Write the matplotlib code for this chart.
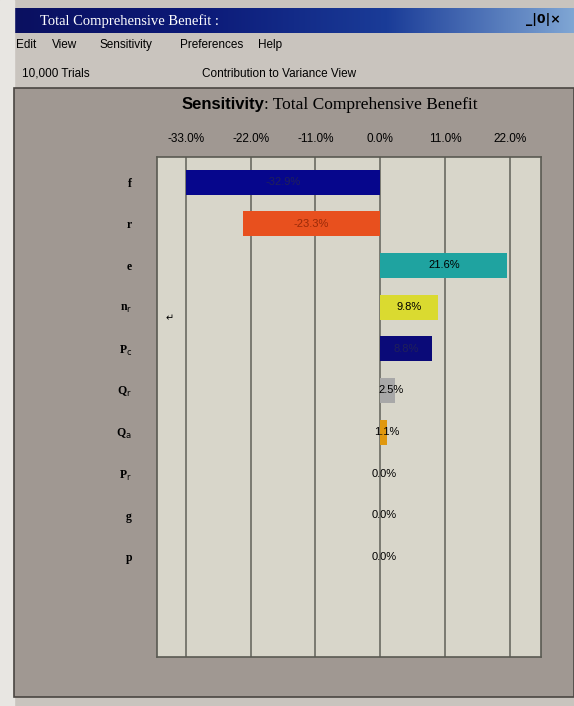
import numpy as np
import matplotlib.pyplot as plt
from matplotlib.patches import Rectangle
from matplotlib.colors import LinearSegmentedColormap

# data
names = ['f', 'r', 'e', 'n$_{\\mathrm{r}}$', 'P$_{\\mathrm{c}}$', 'Q$_{\\mathrm{r}}$',
         'Q$_{\\mathrm{a}}$', 'P$_{\\mathrm{r}}$', 'g', 'p']
values = [-32.9, -23.3, 21.6, 9.8, 8.8, 2.5, 1.1, 0.0, 0.0, 0.0]
colors = ['#06068c', '#e8501e', '#1fa3a0', '#dada30', '#0a0a78',
          '#a8a8a8', '#e0980e', '#c8c8c0', '#c8c8c0', '#c8c8c0']
ticks = [-33, -22, -11, 0, 11, 22]

W, H = 574, 706
fig = plt.figure(figsize=(W / 100, H / 100), dpi=100)
fig.patch.set_facecolor('#c9c4be')


def box(x, y, w, h):
    return [x / W, 1 - (y + h) / H, w / W, h / H]


def px(x, y):
    return x / W, 1 - y / H


# window chrome
fig.patches.append(Rectangle((0, 0), 14 / W, 1, transform=fig.transFigure,
                             color='#e8e6e2', zorder=0))
tb = fig.add_axes(box(14, 8, 560, 25))
grad = np.linspace(0, 1, 256).reshape(1, -1)
cm = LinearSegmentedColormap.from_list('tb', ['#0a1060', '#0c1a78', '#1a3c98', '#7fa6d4'])
tb.imshow(grad, aspect='auto', cmap=cm, extent=[0, 1, 0, 1])
tb.set_axis_off()
fig.text(*px(40, 21), 'Total Comprehensive Benefit :', color='white',
         family='Liberation Serif', fontsize=10.5, va='center')
fig.text(*px(526, 20), '_|0|×', color='black', family='DejaVu Sans',
         fontsize=9, va='center', fontweight='bold')

menu = ['Edit', 'View', 'Sensitivity', 'Preferences', 'Help']
mx = [16, 52, 100, 180, 258]
for m, x in zip(menu, mx):
    fig.text(*px(x, 45), m, fontsize=8.5, family='Liberation Sans', va='center')
fig.text(*px(22, 74), '10,000 Trials', fontsize=8.5, family='Liberation Sans', va='center')
fig.text(*px(202, 74), 'Contribution to Variance View', fontsize=8.5,
         family='Liberation Sans', va='center')

# panel
fig.patches.append(Rectangle(px(14, 697), (574 - 14) / W, (697 - 88) / H,
                             transform=fig.transFigure, facecolor='#a09892',
                             edgecolor='#4a4642', lw=1.2, zorder=0))

fig.text(*px(264, 105), 'Sensitivity', fontsize=12, fontweight='bold',
         family='Liberation Sans', ha='right', va='center')
fig.text(*px(264, 105), ': Total Comprehensive Benefit', fontsize=12.5,
         family='Liberation Serif', ha='left', va='center')

ax = fig.add_axes(box(157, 157, 384, 500))
ax.set_zorder(3)
ax.set_facecolor('#d8d6ca')
y = np.arange(len(values))
ax.barh(y, values, height=0.6, color=colors, zorder=3)
for yi, v in zip(y, values):
    tc = '#20205a' if yi in (0, 4) else ('#9a2a08' if yi == 1 else 'black')
    ax.text(v / 2 if abs(v) > 3 else v / 2 + 0.6, yi, f'{v:.1f}%', ha='center',
            va='center', fontsize=8, color=tc, family='Liberation Sans', zorder=4)
ax.set_xlim(-37.9, 27.3)
ax.set_ylim(11.4, -0.6)
ax.set_xticks(ticks)
ax.set_xticklabels([f'{t:.1f}%' for t in ticks], family='Liberation Sans', fontsize=8.5)
ax.xaxis.tick_top()
ax.tick_params(axis='x', length=0, pad=9)
ax.set_yticks(y)
ax.set_yticklabels(names, family='Liberation Serif', fontsize=8.5, fontweight='bold')
ax.tick_params(axis='y', length=0, pad=18)
for t in ticks:
    ax.axvline(t, color='#6a6a62', lw=1.2, zorder=2)
for s in ax.spines.values():
    s.set_color('#5a5a52')
    s.set_linewidth(1.2)
fig.text(*px(166, 318), '↵', fontsize=7, va='center', family='DejaVu Sans', zorder=5)

fig.savefig('out.png', dpi=100, facecolor=fig.get_facecolor())
